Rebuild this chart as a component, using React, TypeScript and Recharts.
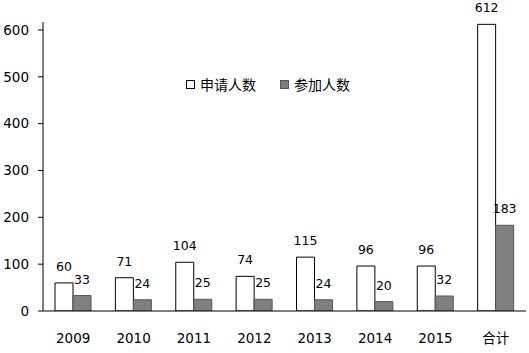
import React from 'react';
import { BarChart, Bar, XAxis, YAxis, Legend, LabelList } from 'recharts';

const categories = ['2009', '2010', '2011', '2012', '2013', '2014', '2015', '合计'];
const applicants = [60, 71, 104, 74, 115, 96, 96, 612];
const participants = [33, 24, 25, 25, 24, 20, 32, 183];
const yTicks = [0, 100, 200, 300, 400, 500, 600];
const boundaryTicks = [0, 1, 2, 3, 4, 5, 6, 7, 8];
const seriesNames = ['申请人数', '参加人数'];
const seriesFills = ['#ffffff', '#808080'];
const seriesStrokes = ['#000000', '#555555'];

const data = categories.map((c, i) => ({
  name: c,
  a: applicants[i],
  b: participants[i],
}));

const FONT = '"DejaVu Sans", "Noto Sans CJK SC", sans-serif';

const renderLegend = () => {
  return (
    <div style={{ display: 'flex', alignItems: 'center', fontFamily: '"Noto Sans CJK SC", sans-serif', fontSize: 14, color: '#000' }}>
      {seriesNames.map((name, i) => (
        <div key={name} style={{ display: 'flex', alignItems: 'center', marginRight: i === 0 ? 24 : 0 }}>
          <div
            style={{
              width: 7,
              height: 7,
              border: `1px solid ${seriesStrokes[i]}`,
              background: seriesFills[i],
              marginRight: 5,
            }}
          />
          <span>{name}</span>
        </div>
      ))}
    </div>
  );
};

export default function App() {
  return (
    <div style={{ position: 'absolute', left: 0, top: 0, width: 529, height: 353, background: '#fff' }}>
      <BarChart
        width={529}
        height={353}
        data={data}
        margin={{ top: 22, right: 3, bottom: 0, left: 0 }}
        barGap={0}
        barSize={18}
      >
        <XAxis
          xAxisId="grid"
          type="number"
          domain={[0, 8]}
          ticks={boundaryTicks}
          allowDataOverflow
          tick={false}
          axisLine={false}
          tickLine={{ stroke: '#000' }}
          tickSize={6}
          height={0}
        />
        <XAxis
          xAxisId="cat"
          dataKey="name"
          axisLine={{ stroke: '#000' }}
          tickLine={false}
          tickSize={0}
          tickMargin={22}
          height={42}
          tick={{ fill: '#000', fontSize: 13.5, fontFamily: FONT }}
          interval={0}
        />
        <YAxis
          domain={[0, 617]}
          ticks={yTicks}
          allowDataOverflow
          width={43}
          axisLine={{ stroke: '#000' }}
          tickLine={{ stroke: '#000' }}
          tickSize={5}
          tickMargin={9}
          tick={{ fill: '#000', fontSize: 13.5, fontFamily: FONT }}
        />
        <Legend
          layout="horizontal"
          verticalAlign="middle"
          align="center"
          content={renderLegend}
          wrapperStyle={{ position: 'absolute', left: 186, top: 74, width: 'auto', height: 'auto' }}
        />
        <Bar
          xAxisId="cat"
          dataKey="a"
          name={seriesNames[0]}
          fill={seriesFills[0]}
          stroke={seriesStrokes[0]}
          strokeWidth={1}
          isAnimationActive={false}
        >
          <LabelList dataKey="a" position="top" offset={12} fill="#000" fontSize={12.5} fontFamily={FONT} />
        </Bar>
        <Bar
          xAxisId="cat"
          dataKey="b"
          name={seriesNames[1]}
          fill={seriesFills[1]}
          stroke={seriesStrokes[1]}
          strokeWidth={1}
          isAnimationActive={false}
        >
          <LabelList dataKey="b" position="top" offset={12} fill="#000" fontSize={12.5} fontFamily={FONT} />
        </Bar>
      </BarChart>
    </div>
  );
}
